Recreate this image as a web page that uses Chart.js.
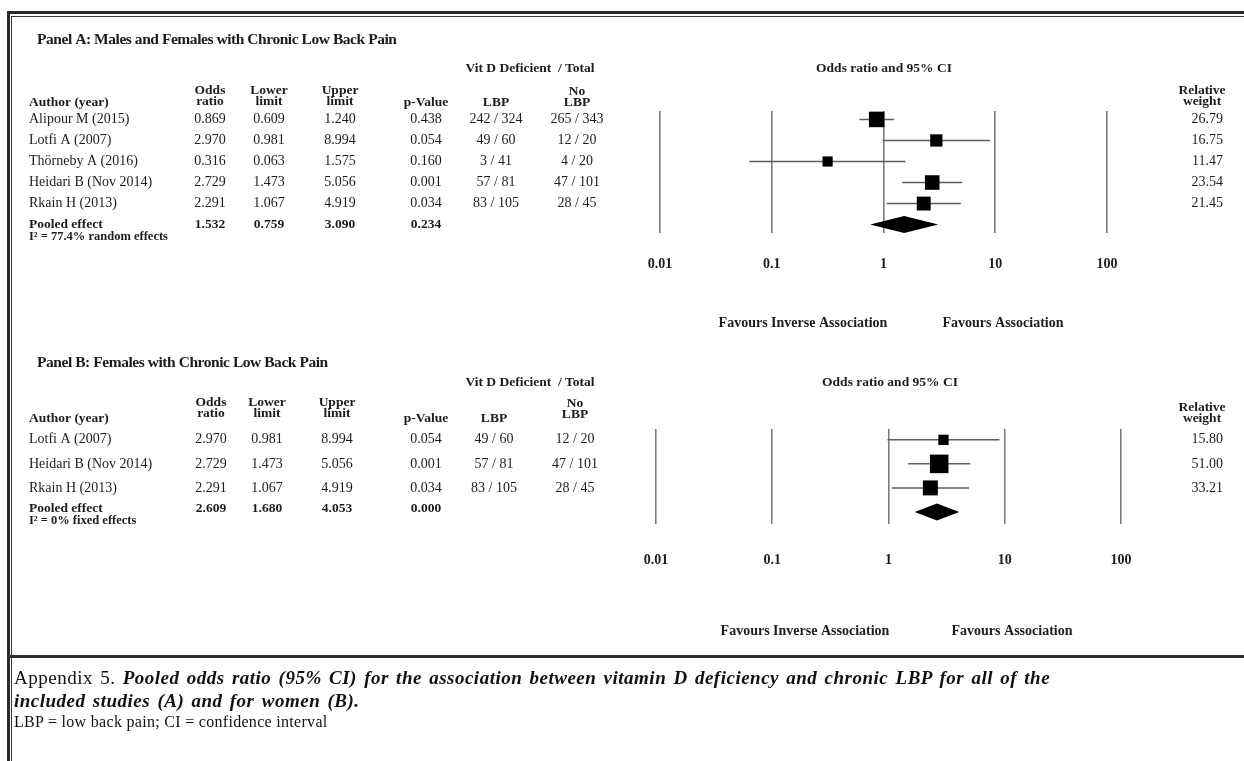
<!DOCTYPE html>
<html>
<head>
<meta charset="utf-8">
<script src="https://cdn.jsdelivr.net/npm/chart.js@4.4.1/dist/chart.umd.min.js"></script>
<style>
  html, body { margin: 0; padding: 0; background: #fff; }
  body { width: 1244px; height: 761px; position: relative; overflow: hidden; font-family: "Liberation Serif", "Times New Roman", serif; }
  .frame-outer { position: absolute; left: 7px; top: 11px; width: 1240px; height: 760px; border-top: 3px solid #2a2a2a; border-left: 3px solid #2a2a2a; }
  .frame-inner { position: absolute; left: 11px; top: 16px; width: 1240px; height: 760px; border-top: 1px solid #3a3a3a; border-left: 1px solid #3a3a3a; }
  .sep { position: absolute; left: 8px; top: 655px; width: 1240px; height: 3px; background: #2e2e2e; }
  .panel { position: absolute; left: 0; top: 0; width: 1244px; height: 761px; }
  .caption { position: absolute; left: 14px; top: 666px; color: #111; }
  .caption .l1, .caption .l2 { font-size: 19px; line-height: 23px; white-space: nowrap; letter-spacing: 0.5px; word-spacing: 2px; }
  .caption i { font-weight: bold; }
  .caption .l3 { font-size: 16px; line-height: 19px; letter-spacing: 0.3px; }
</style>
</head>
<body>
<div class="frame-outer"></div>
<div class="frame-inner"></div>
<div class="sep"></div>
<div class="panel"><canvas id="panelA"></canvas></div>
<div class="panel"><canvas id="panelB"></canvas></div>
<div class="caption">
  <div class="l1">Appendix 5. <i>Pooled odds ratio (95% CI) for the association between vitamin D deficiency and chronic LBP for all of the</i></div>
  <div class="l2"><i>included studies (A) and for women (B).</i></div>
  <div class="l3">LBP = low back pain; CI = confidence interval</div>
</div>
<script>
// ---- data ----
const xTicks = [0.01, 0.1, 1, 10, 100];
const xTickLabels = ['0.01', '0.1', '1', '10', '100'];

// Panel A: males and females
const studiesA = ['Alipour M (2015)', 'Lotfi A (2007)', 'Thörneby A (2016)', 'Heidari B (Nov 2014)', 'Rkain H (2013)'];
const oddsA = [0.869, 2.970, 0.316, 2.729, 2.291];
const lowerA = [0.609, 0.981, 0.063, 1.473, 1.067];
const upperA = [1.240, 8.994, 1.575, 5.056, 4.919];
const pValueA = ['0.438', '0.054', '0.160', '0.001', '0.034'];
const lbpA = ['242 / 324', '49 / 60', '3 / 41', '57 / 81', '83 / 105'];
const noLbpA = ['265 / 343', '12 / 20', '4 / 20', '47 / 101', '28 / 45'];
const weightA = [26.79, 16.75, 11.47, 23.54, 21.45];
const pooledA = [1.532, 0.759, 3.090];
const pooledPA = '0.234';
const heteroA = 'I\u00b2 = 77.4% random effects';

// Panel B: females only
const studiesB = ['Lotfi A (2007)', 'Heidari B (Nov 2014)', 'Rkain H (2013)'];
const oddsB = [2.970, 2.729, 2.291];
const lowerB = [0.981, 1.473, 1.067];
const upperB = [8.994, 5.056, 4.919];
const pValueB = ['0.054', '0.001', '0.034'];
const lbpB = ['49 / 60', '57 / 81', '83 / 105'];
const noLbpB = ['12 / 20', '47 / 101', '28 / 45'];
const weightB = [15.80, 51.00, 33.21];
const pooledB = [2.609, 1.680, 4.053];
const pooledPB = '0.000';
const heteroB = 'I\u00b2 = 0% fixed effects';

const SERIF = '"Liberation Serif", "Times New Roman", serif';
const INK = '#1c1c1c';

function text(ctx, str, x, y, font, align, spacing) {
  ctx.font = font;
  ctx.letterSpacing = spacing || '0px';
  ctx.textAlign = align || 'center';
  ctx.textBaseline = 'middle';
  ctx.fillStyle = INK;
  ctx.fillText(str, x, y);
  ctx.letterSpacing = '0px';
}

function makePanel(id, p) {
  const n = p.studies.length;
  const datasets = [];
  // confidence interval whiskers
  for (let i = 0; i < n; i++) {
    datasets.push({
      data: [{ x: p.lower[i], y: i }, { x: p.upper[i], y: i }],
      showLine: true, borderColor: '#5e5e5e', borderWidth: 1.5,
      pointRadius: 0, order: 2
    });
  }
  // study boxes, area proportional to weight
  datasets.push({
    data: p.odds.map((v, i) => ({ x: v, y: i })),
    pointStyle: 'rect',
    pointRadius: p.weight.map(w => p.box * Math.sqrt(w) / Math.SQRT2),
    backgroundColor: '#000', borderColor: '#000', borderWidth: 0, order: 1
  });

  const tablePlugin = {
    id: 'table' + id,
    afterDatasetsDraw(chart) {
      const ctx = chart.ctx;
      const xs = chart.scales.x, ys = chart.scales.y;
      const c = p.cols;
      ctx.save();
      // pooled diamond
      const py = ys.getPixelForValue(n);
      ctx.beginPath();
      ctx.moveTo(xs.getPixelForValue(p.pooled[1]), py);
      ctx.lineTo(xs.getPixelForValue(p.pooled[0]), py - 8.5);
      ctx.lineTo(xs.getPixelForValue(p.pooled[2]), py);
      ctx.lineTo(xs.getPixelForValue(p.pooled[0]), py + 8.5);
      ctx.closePath();
      ctx.fillStyle = '#000';
      ctx.fill();

      const hb = 'bold 13.5px ' + SERIF;
      const h2 = 'bold 14px ' + SERIF;
      const reg = '14px ' + SERIF;
      text(ctx, p.title, 37, p.titleY, 'bold 15.5px ' + SERIF, 'left', '-0.45px');
      text(ctx, 'Vit D Deficient  / Total', 530, p.groupY, 'bold 13.5px ' + SERIF);
      text(ctx, 'Odds ratio and 95% CI', p.ciX, p.groupY, 'bold 13.5px ' + SERIF);
      const h1y = p.headY, h2y = p.headY + 11;
      text(ctx, 'Author (year)', 29, p.authorY, hb, 'left');
      text(ctx, 'Odds', c.odds, h1y, hb); text(ctx, 'ratio', c.odds, h2y, hb);
      text(ctx, 'Lower', c.lower, h1y, hb); text(ctx, 'limit', c.lower, h2y, hb);
      text(ctx, 'Upper', c.upper, h1y, hb); text(ctx, 'limit', c.upper, h2y, hb);
      text(ctx, 'p-Value', c.p, p.authorY, hb);
      text(ctx, 'LBP', c.lbp, p.authorY, hb);
      text(ctx, 'No', c.nolbp, h1y + 1, hb); text(ctx, 'LBP', c.nolbp, h2y + 1, hb);
      text(ctx, 'Relative', c.weight - 21, p.relY, hb); text(ctx, 'weight', c.weight - 21, p.relY + 11, hb);

      for (let i = 0; i < n; i++) {
        const y = ys.getPixelForValue(i);
        text(ctx, p.studies[i], 29, y, reg, 'left');
        text(ctx, p.odds[i].toFixed(3), c.odds, y, reg);
        text(ctx, p.lower[i].toFixed(3), c.lower, y, reg);
        text(ctx, p.upper[i].toFixed(3), c.upper, y, reg);
        text(ctx, p.pValue[i], c.p, y, reg);
        text(ctx, p.lbp[i], c.lbp, y, reg);
        text(ctx, p.noLbp[i], c.nolbp, y, reg);
        text(ctx, p.weight[i].toFixed(2), c.weight, y, reg, 'right');
      }
      const yp = ys.getPixelForValue(n) - p.pooledLift;
      text(ctx, 'Pooled effect', 29, yp, hb, 'left');
      text(ctx, p.pooled[0].toFixed(3), c.odds, yp, hb);
      text(ctx, p.pooled[1].toFixed(3), c.lower, yp, hb);
      text(ctx, p.pooled[2].toFixed(3), c.upper, yp, hb);
      text(ctx, p.pooledP, c.p, yp, hb);
      text(ctx, p.hetero, 29, yp + 12, 'bold 12.5px ' + SERIF, 'left');

      text(ctx, 'Favours Inverse Association', p.favInvX, p.favY, h2);
      text(ctx, 'Favours Association', p.favX, p.favY, h2);
      ctx.restore();
    }
  };

  return new Chart(document.getElementById(id), {
    type: 'scatter',
    data: { datasets },
    options: {
      responsive: true,
      maintainAspectRatio: false,
      animation: false,
      events: [],
      layout: { padding: p.padding },
      plugins: { legend: { display: false }, tooltip: { enabled: false } },
      scales: {
        x: {
          type: 'logarithmic', min: 0.01, max: 100,
          afterBuildTicks: (s) => { s.ticks = xTicks.map(v => ({ value: v })); },
          afterFit: (s) => { s.height = 40; },
          border: { display: false },
          grid: { color: '#7c7c7c', lineWidth: 1.6, drawTicks: false },
          ticks: {
            autoSkip: false, maxRotation: 0, padding: p.tickPad, color: INK,
            font: { family: SERIF, size: 14, weight: 'bold' },
            callback: (v) => xTickLabels[xTicks.indexOf(v)]
          }
        },
        y: { type: 'linear', reverse: true, min: p.yMin, max: p.yMax, display: false }
      }
    },
    plugins: [tablePlugin]
  });
}

makePanel('panelA', {
  title: 'Panel A: Males and Females with Chronic Low Back Pain',
  studies: studiesA, odds: oddsA, lower: lowerA, upper: upperA, pValue: pValueA,
  lbp: lbpA, noLbp: noLbpA, weight: weightA, pooled: pooledA, pooledP: pooledPA, hetero: heteroA,
  box: 3.0, yMin: -0.4, yMax: 5.4, pooledLift: 0,
  padding: { left: 660, right: 137, top: 111, bottom: 761 - 233 - 40 },
  tickPad: 23,
  cols: { odds: 210, lower: 269, upper: 340, p: 426, lbp: 496, nolbp: 577, weight: 1223 },
  titleY: 40, groupY: 69, headY: 91, authorY: 103, relY: 91, ciX: 884,
  favY: 323, favInvX: 803, favX: 1003
});

makePanel('panelB', {
  title: 'Panel B: Females with Chronic Low Back Pain',
  studies: studiesB, odds: oddsB, lower: lowerB, upper: upperB, pValue: pValueB,
  lbp: lbpB, noLbp: noLbpB, weight: weightB, pooled: pooledB, pooledP: pooledPB, hetero: heteroB,
  box: 2.6, yMin: -0.45, yMax: 3.5, pooledLift: 3,
  padding: { left: 656, right: 123, top: 429, bottom: 761 - 524 - 40 },
  tickPad: 28,
  cols: { odds: 211, lower: 267, upper: 337, p: 426, lbp: 494, nolbp: 575, weight: 1223 },
  titleY: 363, groupY: 383, headY: 403, authorY: 419, relY: 408, ciX: 890,
  favY: 631, favInvX: 805, favX: 1012
});
</script>
</body>
</html>
